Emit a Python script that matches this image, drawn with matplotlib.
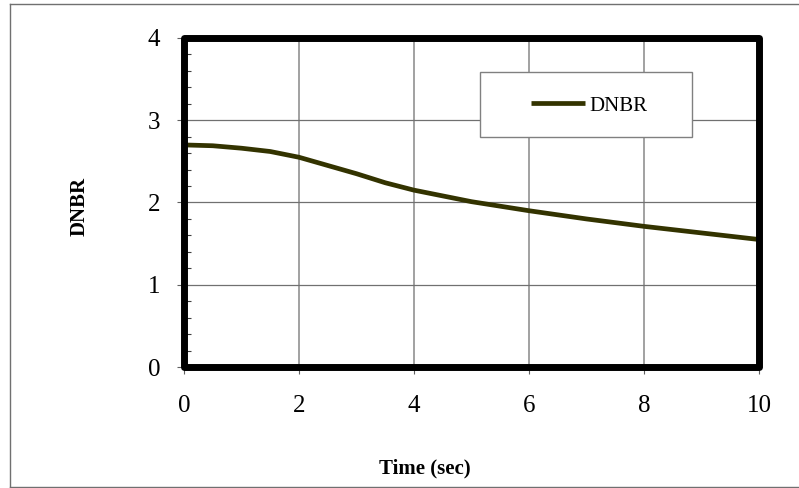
import matplotlib
matplotlib.use("Agg")
import matplotlib.pyplot as plt
from matplotlib.patches import Rectangle
from matplotlib.lines import Line2D
import numpy as np

plt.rcParams['font.family'] = ['Liberation Serif', 'DejaVu Serif']

# values
time_sec = [0, 0.5, 1, 1.5, 2, 2.5, 3, 3.5, 4, 4.5, 5, 6, 7, 8, 9, 10]
dnbr = [2.70, 2.69, 2.66, 2.62, 2.55, 2.45, 2.35, 2.24, 2.15, 2.08, 2.01,
        1.90, 1.80, 1.71, 1.63, 1.55]
x_ticks = [0, 2, 4, 6, 8, 10]
y_ticks = [0, 1, 2, 3, 4]

W, H = 799, 488
fig = plt.figure(figsize=(W / 100, H / 100), dpi=100)
ax = fig.add_axes([184 / W, 1 - 367 / H, (759 - 184) / W, (367 - 38) / H])

ax.plot(time_sec, dnbr, color='#333300', lw=3.4, label='DNBR', zorder=4,
        solid_capstyle='butt')

ax.set_xlim(0, 10)
ax.set_ylim(0, 4)
ax.set_xticks(x_ticks)
ax.set_yticks(y_ticks)
ax.set_yticks(np.arange(0, 4.01, 0.2), minor=True)
ax.tick_params(axis='both', which='major', direction='out', length=5,
               width=0.8, color='#606060', labelsize=18, pad=12)
ax.tick_params(axis='x', which='major', pad=15)
ax.tick_params(axis='y', which='minor', direction='in', length=5,
               width=0.8, color='#404040')

ax.xaxis.grid(True, color='#9a9a9a', lw=1.3)
ax.yaxis.grid(True, color='#707070', lw=0.9)
ax.set_axisbelow(True)

# thick frame with rounded corners
for s in ax.spines.values():
    s.set_visible(False)
ax.add_patch(Rectangle((0, 0), 1, 1, transform=ax.transAxes, fill=False,
                       lw=5, edgecolor='black', joinstyle='round',
                       clip_on=False, zorder=5))

# legend box
ax.add_patch(Rectangle((0.515, 0.699), 0.368, 0.198, transform=ax.transAxes,
                       facecolor='white', edgecolor='#808080', lw=1, zorder=6))
leg = ax.legend(loc='center left', bbox_to_anchor=((531 - 184) / 575, (367 - 106) / 329),
                frameon=False, fontsize=15, handlelength=2.6,
                handletextpad=0.2, borderpad=0, borderaxespad=0)
leg.set_zorder(7)

fig.text(425 / W, 1 - 468 / H, 'Time (sec)', ha='center', va='center',
         fontsize=15, fontweight='bold')
fig.text(80 / W, 1 - 206 / H, 'DNBR', ha='center', va='center',
         rotation=90, fontsize=15, fontweight='bold')

# outer chart border
fig.add_artist(Line2D([10 / W, 10 / W], [1 - 4 / H, 1 - 487 / H], color='#707070', lw=1))
fig.add_artist(Line2D([10 / W, 1.0], [1 - 4 / H, 1 - 4 / H], color='#707070', lw=1))
fig.add_artist(Line2D([10 / W, 1.0], [1 - 487 / H, 1 - 487 / H], color='#707070', lw=1))

fig.savefig('out.png', dpi=100)
